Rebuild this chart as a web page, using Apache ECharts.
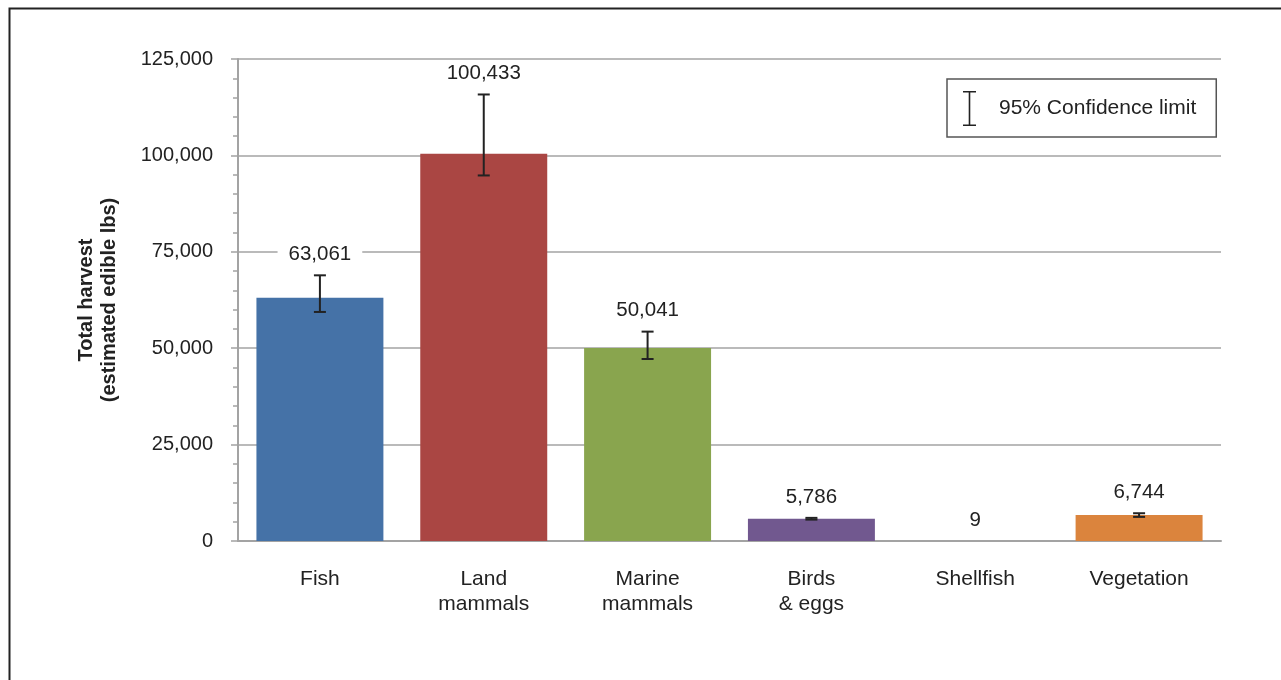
<!DOCTYPE html>
<html>
<head>
<meta charset="utf-8">
<script src="https://cdn.jsdelivr.net/npm/echarts@6/dist/echarts.min.js"></script>
<style>
html,body{margin:0;padding:0;background:#fff;}
#chart{width:1281px;height:680px;}
</style>
</head>
<body>
<div id="chart"></div>
<script>
const categories = ['Fish', 'Land\nmammals', 'Marine\nmammals', 'Birds\n& eggs', 'Shellfish', 'Vegetation'];
const harvest = [63061, 100433, 50041, 5786, 9, 6744];
const ciLow = [59400, 94800, 47200, 5550, 9, 6250];
const ciHigh = [68900, 115800, 54300, 6000, 9, 7200];
const barColors = ['#4572A7', '#AA4643', '#89A54E', '#71588F', '#4198AF', '#DB843D'];
const yTicks = [0, 25000, 50000, 75000, 100000, 125000];
const legendLabel = '95% Confidence limit';

const fmt = v => Number(v).toLocaleString('en-US');
const FONT = 'Liberation Sans, Arial, sans-serif';

const chart = echarts.init(document.getElementById('chart'));
const errData = categories.map((c, i) => [i, ciLow[i], ciHigh[i], harvest[i]]);

chart.setOption({
  animation: false,
  backgroundColor: '#fff',
  textStyle: { fontFamily: FONT },
  graphic: [{
    type: 'rect',
    left: 7, top: 6,
    shape: { width: 1300, height: 700 },
    style: { fill: 'none', stroke: '#222', lineWidth: 2 },
    silent: true, z: 100
  }],
  grid: { left: 238, right: 60, top: 59, bottom: 139, containLabel: false },
  legend: {
    data: [legendLabel],
    selectedMode: false,
    left: 947, top: 79,
    orient: 'vertical',
    padding: [12, 20, 11, 16],
    borderColor: '#555', borderWidth: 1.5,
    itemWidth: 13, itemHeight: 35,
    icon: 'path://M0,0H13V1.6H7.3V33.4H13V35H0V33.4H5.7V1.6H0Z',
    itemStyle: { color: '#222' },
    textStyle: { fontSize: 21, color: '#222', fontFamily: FONT, padding: [5, 0, 0, 18] }
  },
  xAxis: {
    type: 'category',
    data: categories,
    axisLine: { show: true, lineStyle: { color: '#a3a3a3', width: 2 } },
    axisTick: { show: false },
    axisLabel: { fontSize: 21, color: '#222', lineHeight: 25, margin: 26, fontFamily: FONT }
  },
  yAxis: {
    type: 'value',
    min: yTicks[0], max: yTicks[yTicks.length - 1], interval: 25000,
    name: 'Total harvest\n(estimated edible lbs)',
    nameLocation: 'middle', nameRotate: 90, nameGap: 117,
    nameTextStyle: { fontSize: 20, fontWeight: 'bold', color: '#222', lineHeight: 23, fontFamily: FONT },
    axisLine: { show: true, lineStyle: { color: '#a3a3a3', width: 2 } },
    axisTick: { show: true, length: 7, lineStyle: { color: '#a3a3a3', width: 1.5 } },
    minorTick: { show: true, splitNumber: 5, length: 5, lineStyle: { color: '#a3a3a3', width: 1.5 } },
    splitLine: { show: true, lineStyle: { color: '#a3a3a3', width: 1.5 } },
    axisLabel: { fontSize: 20, color: '#222', margin: 25, padding: [3, 0, 0, 0], formatter: v => fmt(v), fontFamily: FONT }
  },
  series: [{
    type: 'bar',
    barCategoryGap: '22.5%',
    data: harvest.map((v, i) => ({ value: v, itemStyle: { color: barColors[i] } })),
    z: 2
  }, {
    type: 'custom',
    name: legendLabel,
    itemStyle: { color: '#222' },
    data: errData,
    z: 5,
    renderItem: function (params, api) {
      const x = api.value(0);
      const pLo = api.coord([x, api.value(1)]);
      const pHi = api.coord([x, api.value(2)]);
      const half = 6;
      const children = [];
      if (api.value(2) > api.value(1)) {
        const st = { stroke: '#222', lineWidth: 2 };
        children.push(
          { type: 'line', shape: { x1: pHi[0], y1: pHi[1], x2: pLo[0], y2: pLo[1] }, style: st },
          { type: 'line', shape: { x1: pHi[0] - half, y1: pHi[1], x2: pHi[0] + half, y2: pHi[1] }, style: st },
          { type: 'line', shape: { x1: pLo[0] - half, y1: pLo[1], x2: pLo[0] + half, y2: pLo[1] }, style: st }
        );
      }
      children.push({
        type: 'text',
        x: pHi[0], y: pHi[1] - 21,
        style: {
          text: fmt(api.value(3)),
          align: 'center', verticalAlign: 'middle',
          fontSize: 20.5, fill: '#222', fontFamily: FONT,
          backgroundColor: '#fff', padding: [2, 11, 2, 11]
        }
      });
      return { type: 'group', children: children };
    }
  }]
});
</script>
</body>
</html>
